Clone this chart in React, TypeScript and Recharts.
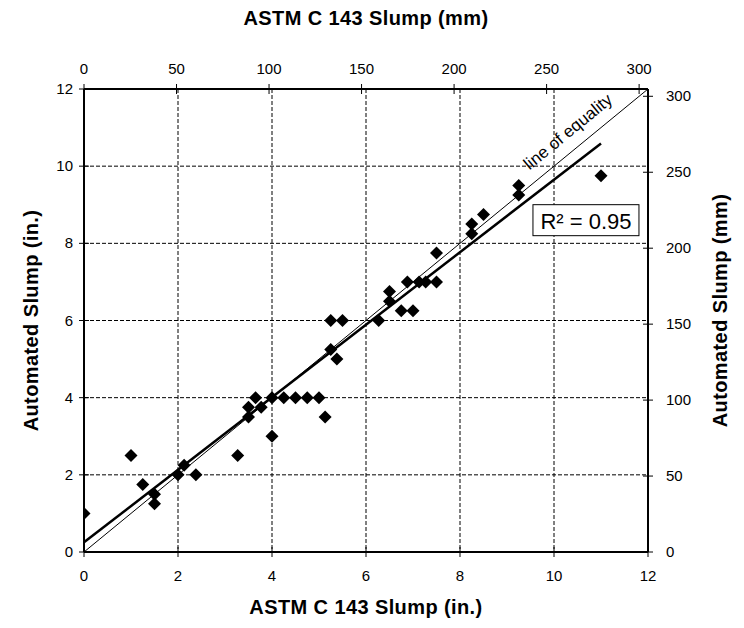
import React from 'react';
import {
  ScatterChart,
  Scatter,
  XAxis,
  YAxis,
  CartesianGrid,
  ReferenceLine,
  ReferenceDot,
} from 'recharts';

// ---- data ----
const astmSlumpIn = [
  0, 1.0, 1.25, 1.5, 1.5, 2.0, 2.13, 2.38, 3.27, 3.5, 3.5, 3.65, 3.77, 4.0, 4.0,
  4.25, 4.5, 4.75, 5.0, 5.13, 5.25, 5.5, 5.25, 5.38, 6.27, 6.5, 6.5, 6.75, 7.0,
  6.88, 7.13, 7.27, 7.5, 7.5, 8.25, 8.25, 8.5, 9.25, 9.25, 11.0,
];
const automatedSlumpIn = [
  1.0, 2.5, 1.75, 1.5, 1.25, 2.0, 2.25, 2.0, 2.5, 3.5, 3.75, 4.0, 3.75, 4.0, 3.0,
  4.0, 4.0, 4.0, 4.0, 3.5, 6.0, 6.0, 5.25, 5.0, 6.0, 6.75, 6.5, 6.25, 6.25,
  7.0, 7.0, 7.0, 7.0, 7.75, 8.25, 8.5, 8.75, 9.25, 9.5, 9.75,
];
const inchTicks = [0, 2, 4, 6, 8, 10, 12];
const mmTicks = [0, 50, 100, 150, 200, 250, 300];
const inchDomain: [number, number] = [0, 12];
const mmDomain: [number, number] = [0, 12 * 25.4];
const fitLine = [
  { x: 0, y: 0.25 },
  { x: 11, y: 10.59 },
];
const equalityLine = [
  { x: 0, y: 0 },
  { x: 12, y: 12 },
];
// corners of the mm axes (same extent as the inch axes)
const mmExtent = [
  { x: mmDomain[0], y: mmDomain[0] },
  { x: mmDomain[1], y: mmDomain[1] },
];
const equalityLabelPos = { x: 10.3, y: 10.89 };
const r2LabelPos = { x: 10.68, y: 8.6 };
const equalityText = 'line of equality';
const r2Text = 'R² = 0.95';
const xTitleIn = 'ASTM C 143 Slump (in.)';
const xTitleMm = 'ASTM C 143 Slump (mm)';
const yTitleIn = 'Automated Slump (in.)';
const yTitleMm = 'Automated Slump (mm)';

const points = astmSlumpIn.map((x, i) => ({ x, y: automatedSlumpIn[i] }));

const FONT = '"Liberation Sans", Arial, Helvetica, sans-serif';
const TICK_FS = 15;
const TITLE_FS = 20;

const BottomTick = (p: any) => (
  <g>
    <line x1={p.x} x2={p.x} y1={p.y - 5} y2={p.y + 5} stroke="#000" strokeWidth={1} />
    <text x={p.x} y={p.y + 29} textAnchor="middle" fontSize={TICK_FS} fontFamily={FONT} fill="#000">
      {p.payload.value}
    </text>
  </g>
);
const TopTick = (p: any) => (
  <g>
    <line x1={p.x} x2={p.x} y1={p.y - 5} y2={p.y + 5} stroke="#000" strokeWidth={1} />
    <text x={p.x} y={p.y - 15} textAnchor="middle" fontSize={TICK_FS} fontFamily={FONT} fill="#000">
      {p.payload.value}
    </text>
  </g>
);
const LeftTick = (p: any) => (
  <g>
    <line x1={p.x - 5} x2={p.x + 5} y1={p.y} y2={p.y} stroke="#000" strokeWidth={1} />
    <text x={p.x - 11} y={p.y + 5} textAnchor="end" fontSize={TICK_FS} fontFamily={FONT} fill="#000">
      {p.payload.value}
    </text>
  </g>
);
const RightTick = (p: any) => (
  <g>
    <line x1={p.x - 5} x2={p.x + 5} y1={p.y} y2={p.y} stroke="#000" strokeWidth={1} />
    <text x={p.x + 18} y={p.y + 5} textAnchor="start" fontSize={TICK_FS} fontFamily={FONT} fill="#000">
      {p.payload.value}
    </text>
  </g>
);

const Diamond = (p: any) => {
  const { cx, cy } = p;
  if (cx == null || cy == null) return <g />;
  const r = 6.5;
  return <path d={`M${cx},${cy - r}L${cx + r},${cy}L${cx},${cy + r}L${cx - r},${cy}Z`} fill="#000" />;
};
const Nothing = () => <g />;

const W = 744;
const H = 628;
const LEFT_W = 84;
const RIGHT_W = 96;
const TOP_H = 89;
const BOTTOM_H = 76;

const titleStyle = {
  fontSize: TITLE_FS,
  fontWeight: 700,
  fontFamily: FONT,
  fill: '#000',
  letterSpacing: 0.4,
};

const bottomTitle = (p: any) => {
  const vb = p.viewBox || { x: LEFT_W, y: H - BOTTOM_H, width: W - LEFT_W - RIGHT_W };
  return (
    <text x={vb.x + vb.width / 2} y={vb.y + 62} textAnchor="middle" {...titleStyle}>
      {xTitleIn}
    </text>
  );
};
const topTitle = (p: any) => {
  const vb = p.viewBox || { x: LEFT_W, y: 0, width: W - LEFT_W - RIGHT_W };
  return (
    <text x={vb.x + vb.width / 2} y={vb.y + 25} textAnchor="middle" {...titleStyle}>
      {xTitleMm}
    </text>
  );
};
const leftTitle = (p: any) => {
  const vb = p.viewBox || { x: 0, y: TOP_H, height: H - TOP_H - BOTTOM_H };
  const cx = vb.x + 31;
  const cy = vb.y + vb.height / 2;
  return (
    <text x={cx} y={cy} transform={`rotate(-90, ${cx}, ${cy})`} textAnchor="middle" dominantBaseline="central" {...titleStyle}>
      {yTitleIn}
    </text>
  );
};
const rightTitle = (p: any) => {
  const vb = p.viewBox || { x: W - RIGHT_W, y: TOP_H, height: H - TOP_H - BOTTOM_H };
  const cx = vb.x + 72;
  const cy = vb.y + vb.height / 2 - 10;
  return (
    <text x={cx} y={cy} transform={`rotate(-90, ${cx}, ${cy})`} textAnchor="middle" dominantBaseline="central" {...titleStyle}>
      {yTitleMm}
    </text>
  );
};

const equalityLabel = (p: any) => {
  const vb = p.viewBox || { x: 0, y: 0 };
  const cx = vb.x + (vb.width || 0) / 2;
  const cy = vb.y + (vb.height || 0) / 2;
  return (
    <text
      x={cx}
      y={cy}
      transform={`rotate(-39.4, ${cx}, ${cy})`}
      textAnchor="middle"
      dominantBaseline="central"
      fontSize={17}
      fontFamily={FONT}
      fill="#000"
    >
      {equalityText}
    </text>
  );
};

const r2Label = (p: any) => {
  const vb = p.viewBox || { x: 0, y: 0 };
  const cx = vb.x + (vb.width || 0) / 2;
  const cy = vb.y + (vb.height || 0) / 2;
  const bw = 106;
  const bh = 31;
  return (
    <g>
      <rect x={cx - bw / 2} y={cy - bh / 2} width={bw} height={bh} fill="#fff" stroke="#000" strokeWidth={1} />
      <text x={cx} y={cy + 1} textAnchor="middle" dominantBaseline="central" fontSize={22} fontFamily={FONT} fill="#000">
        {r2Text}
      </text>
    </g>
  );
};

const axisLine = { stroke: '#000', strokeWidth: 2 };

export default function App() {
  return (
    <div style={{ position: 'absolute', left: 0, top: 0, width: W, height: H, background: '#fff' }}>
      <ScatterChart width={W} height={H} margin={{ top: 0, right: 0, bottom: 0, left: 0 }}>
        <XAxis
          xAxisId="in"
          dataKey="x"
          type="number"
          orientation="bottom"
          domain={inchDomain}
          ticks={inchTicks}
          interval={0}
          height={BOTTOM_H}
          tickSize={0}
          tickMargin={0}
          tickLine={false}
          tick={<BottomTick />}
          axisLine={axisLine}
          allowDataOverflow
          label={bottomTitle}
        />
        <XAxis
          xAxisId="mm"
          dataKey="x"
          type="number"
          orientation="top"
          domain={mmDomain}
          ticks={mmTicks}
          interval={0}
          height={TOP_H}
          tickSize={0}
          tickMargin={0}
          tickLine={false}
          tick={<TopTick />}
          axisLine={axisLine}
          allowDataOverflow
          label={topTitle}
        />
        <YAxis
          yAxisId="in"
          dataKey="y"
          type="number"
          orientation="left"
          domain={inchDomain}
          ticks={inchTicks}
          interval={0}
          width={LEFT_W}
          tickSize={0}
          tickMargin={0}
          tickLine={false}
          tick={<LeftTick />}
          axisLine={axisLine}
          allowDataOverflow
          label={leftTitle}
        />
        <YAxis
          yAxisId="mm"
          dataKey="y"
          type="number"
          orientation="right"
          domain={mmDomain}
          ticks={mmTicks}
          interval={0}
          width={RIGHT_W}
          tickSize={0}
          tickMargin={0}
          tickLine={false}
          tick={<RightTick />}
          axisLine={axisLine}
          allowDataOverflow
          label={rightTitle}
        />
        <CartesianGrid xAxisId="in" yAxisId="in" stroke="#000" strokeWidth={1} strokeDasharray="4 2" />
        <Scatter
          xAxisId="mm"
          yAxisId="mm"
          data={mmExtent}
          shape={<Nothing />}
          isAnimationActive={false}
        />
        <ReferenceLine
          xAxisId="in"
          yAxisId="in"
          segment={equalityLine}
          stroke="#000"
          strokeWidth={1}
          ifOverflow="visible"
        />
        <ReferenceLine
          xAxisId="in"
          yAxisId="in"
          segment={fitLine}
          stroke="#000"
          strokeWidth={2.5}
          ifOverflow="visible"
        />
        <ReferenceDot
          xAxisId="in"
          yAxisId="in"
          x={equalityLabelPos.x}
          y={equalityLabelPos.y}
          r={0}
          fill="none"
          stroke="none"
          label={equalityLabel}
        />
        <ReferenceDot
          xAxisId="in"
          yAxisId="in"
          x={r2LabelPos.x}
          y={r2LabelPos.y}
          r={0}
          fill="none"
          stroke="none"
          label={r2Label}
        />
        <Scatter
          xAxisId="in"
          yAxisId="in"
          data={points}
          shape={<Diamond />}
          isAnimationActive={false}
        />
      </ScatterChart>
    </div>
  );
}
